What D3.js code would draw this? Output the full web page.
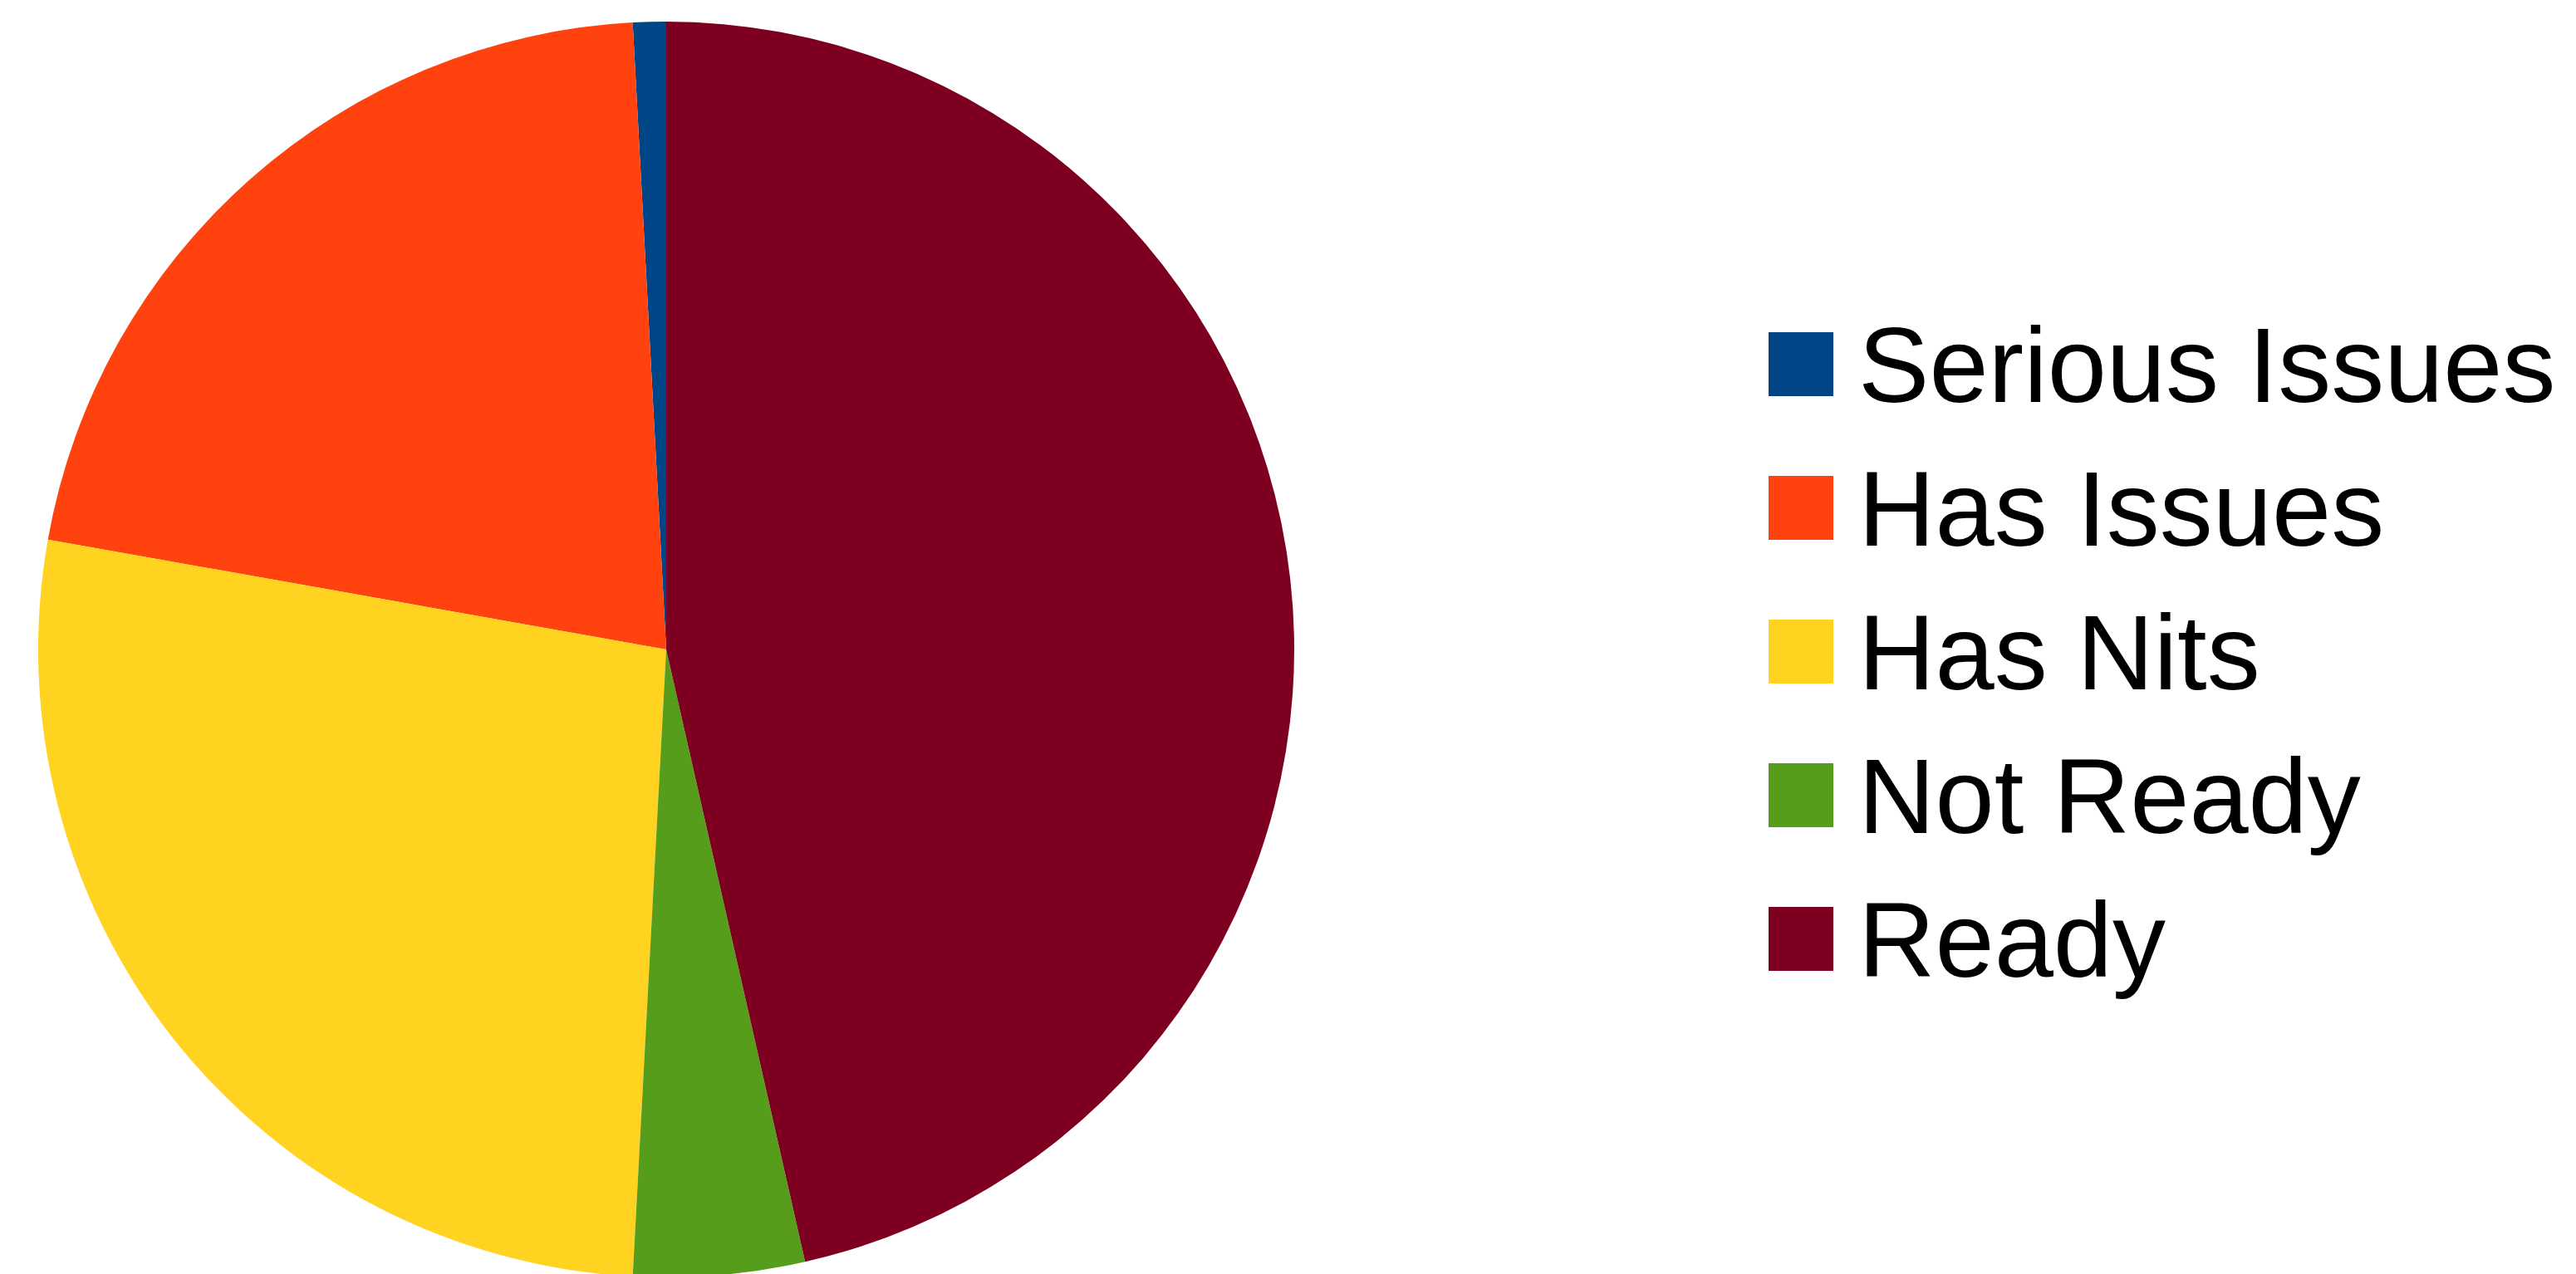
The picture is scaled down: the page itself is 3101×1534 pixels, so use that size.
<!DOCTYPE html>
<html>
<head>
<meta charset="utf-8">
<script src="https://cdn.jsdelivr.net/npm/d3@7"></script>
<style>
  html, body { margin: 0; padding: 0; background: #fff; overflow: hidden; }
</style>
</head>
<body>
<div id="chart"></div>
<script>
// Pie chart of review status, LibreOffice style: slices run counter-clockwise from 12 o'clock

var categories = ["Serious Issues", "Has Issues", "Has Nits", "Not Ready", "Ready"];
var shares = [0.85, 21.35, 26.95, 4.4, 46.45];
var colours = ["#004586", "#ff420e", "#ffd320", "#579d1c", "#7e0021"];

(function() {
  var width = 3101,
      height = 1534,
      cx = 802,
      cy = 782,
      radius = 756;

  var svg = d3.select("#chart")
    .append("svg")
    .attr("width", width)
    .attr("height", height);

  var colour = d3.scaleOrdinal()
    .domain(categories)
    .range(colours);

  var data = categories.map(function(c, i) {
    return { name: c, value: shares[i] };
  });

  var pie = d3.pie()
    .sort(null)
    .value(function(d) { return d.value; })
    .startAngle(0)
    .endAngle(-2 * Math.PI);

  var arc = d3.arc()
    .innerRadius(0)
    .outerRadius(radius);

  svg.append("g")
    .attr("transform", "translate(" + cx + "," + cy + ")")
    .selectAll("path")
    .data(pie(data))
    .enter().append("path")
    .attr("d", arc)
    .attr("fill", function(d) { return colour(d.data.name); });

  // legend
  var legendY = d3.scalePoint()
    .domain(categories)
    .range([438, 1130]);

  var legend = svg.append("g")
    .selectAll(".legend")
    .data(categories)
    .enter().append("g")
    .attr("class", "legend")
    .attr("transform", function(d) { return "translate(2129," + legendY(d) + ")"; });

  legend.append("rect")
    .attr("x", 0)
    .attr("y", -38)
    .attr("width", 78)
    .attr("height", 77)
    .attr("fill", function(d) { return colour(d); });

  legend.append("text")
    .attr("x", 108)
    .attr("y", 46)
    .attr("font-family", "Liberation Sans, Arial, sans-serif")
    .attr("font-size", "128px")
    .attr("fill", "#000")
    .text(function(d) { return d; });
})();
</script>
</body>
</html>
